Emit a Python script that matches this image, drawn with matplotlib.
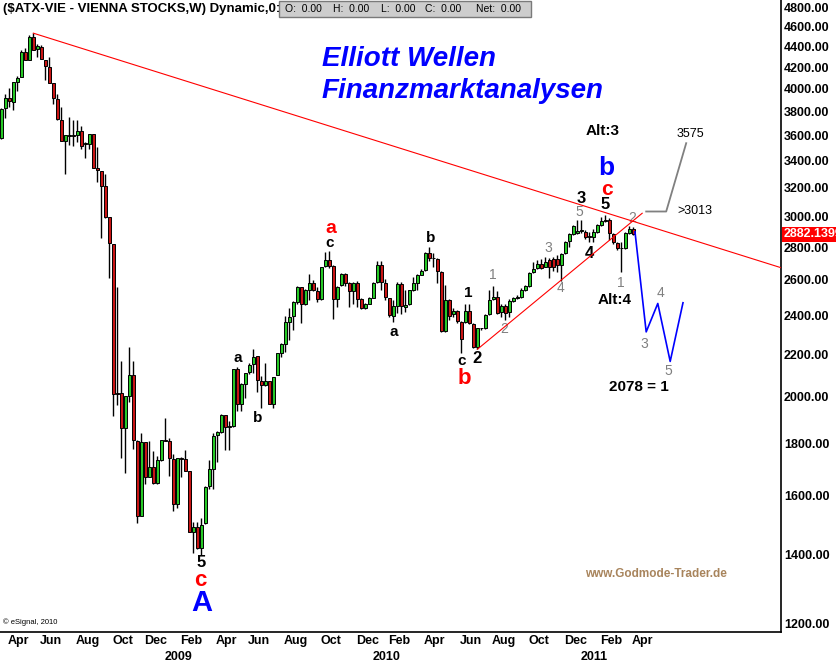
import numpy as np
import pandas as pd
import matplotlib
matplotlib.use('Agg')
import matplotlib.pyplot as plt
from matplotlib.patches import Rectangle
from matplotlib.ticker import FixedLocator, NullLocator, FormatStrFormatter

plt.rcParams['font.family'] = ['Liberation Sans', 'DejaVu Sans']

# weekly bars ATX
dates = pd.date_range('2008-03-24', periods=159, freq='W-MON')

opens = [3577, 3827, 3921, 3882, 4066, 4105, 4344, 4267, 4498, 4374,
         4394, 4267, 4200, 4051, 3911, 3728, 3556, 3600, 3604, 3607,
         3640, 3535, 3531, 3613, 3345, 3324, 3213, 2997, 2819, 2014,
         2014, 1861, 2002, 2101, 1810, 1526, 1803, 1668, 1707, 1645,
         1731, 1814, 1810, 1737, 1569, 1740, 1737, 1689, 1474, 1490,
         1422, 1503, 1636, 1698, 1835, 1846, 1917, 1867, 1870, 2125,
         1966, 2058, 2112, 2152, 2191, 2069, 2054, 2069, 1967, 2101,
         2207, 2252, 2367, 2397, 2472, 2559, 2465, 2544, 2585, 2538,
         2492, 2681, 2722, 2685, 2490, 2570, 2634, 2585, 2534, 2585,
         2490, 2441, 2465, 2499, 2590, 2691, 2581, 2496, 2397, 2454,
         2575, 2445, 2465, 2544, 2585, 2632, 2661, 2764, 2732, 2727,
         2647, 2317, 2487, 2408, 2427, 2367, 2367, 2427, 2354, 2236,
         2331, 2331, 2408, 2490, 2503, 2421, 2450, 2421, 2478, 2496,
         2503, 2540, 2566, 2647, 2670, 2697, 2680, 2718, 2725, 2725,
         2691, 2762, 2839, 2883, 2890, 2906, 2900, 2870, 2864, 2900,
         2942, 2972, 2978, 2883, 2825, 2792, 2792, 2890, 2917]
highs = [3827, 3958, 4009, 4066, 4114, 4367, 4388, 4516, 4535, 4421,
         4411, 4270, 4300, 4055, 3954, 3836, 3602, 3754, 3728, 3728,
         3677, 3547, 3613, 3613, 3509, 3324, 3300, 2997, 2819, 2557,
         2166, 2001, 2238, 2166, 1814, 1843, 1803, 1810, 1767, 1747,
         1814, 1903, 1821, 1757, 1740, 1745, 1771, 1689, 1508, 1508,
         1521, 1636, 1734, 1843, 1848, 1923, 1920, 1891, 2128, 2135,
         2062, 2109, 2156, 2226, 2191, 2093, 2156, 2069, 2091, 2207,
         2255, 2397, 2441, 2478, 2566, 2562, 2548, 2634, 2600, 2562,
         2680, 2768, 2776, 2690, 2566, 2641, 2640, 2590, 2590, 2592,
         2495, 2468, 2500, 2590, 2713, 2713, 2604, 2496, 2487, 2590,
         2587, 2544, 2544, 2618, 2637, 2667, 2770, 2803, 2760, 2734,
         2653, 2570, 2490, 2441, 2432, 2370, 2465, 2465, 2360, 2331,
         2335, 2408, 2540, 2566, 2534, 2465, 2465, 2490, 2503, 2512,
         2555, 2570, 2648, 2708, 2719, 2725, 2740, 2735, 2740, 2750,
         2762, 2842, 2888, 2942, 2976, 2976, 2910, 2900, 2915, 2950,
         2997, 3010, 2990, 2890, 2830, 2830, 2900, 2935, 2930]
lows = [3569, 3748, 3841, 3815, 3979, 4105, 4267, 4267, 4371, 4300,
        4274, 4083, 4057, 3867, 3728, 3556, 3300, 3528, 3520, 3550,
        3496, 3419, 3496, 3345, 3239, 2861, 2992, 2609, 1913, 1962,
        1740, 1684, 1975, 1776, 1503, 1526, 1642, 1668, 1642, 1642,
        1728, 1808, 1672, 1544, 1556, 1668, 1690, 1472, 1406, 1418,
        1400, 1500, 1623, 1623, 1725, 1840, 1774, 1774, 1866, 1934,
        1934, 1992, 2105, 2109, 2022, 1950, 2046, 1967, 1950, 2099,
        2185, 2212, 2269, 2321, 2465, 2361, 2460, 2483, 2538, 2472,
        2488, 2677, 2671, 2379, 2448, 2566, 2566, 2445, 2465, 2445,
        2438, 2436, 2462, 2496, 2585, 2540, 2487, 2393, 2367, 2415,
        2408, 2421, 2460, 2538, 2540, 2628, 2655, 2714, 2677, 2581,
        2310, 2310, 2376, 2393, 2360, 2204, 2360, 2355, 2232, 2224,
        2325, 2328, 2403, 2485, 2408, 2393, 2376, 2393, 2475, 2490,
        2499, 2536, 2562, 2641, 2665, 2665, 2675, 2612, 2655, 2650,
        2595, 2756, 2803, 2880, 2885, 2890, 2851, 2835, 2835, 2890,
        2935, 2960, 2845, 2822, 2780, 2647, 2785, 2883, 2878]
closes = [3821, 3918, 3888, 4061, 4098, 4344, 4267, 4498, 4371, 4401,
          4274, 4207, 4057, 3918, 3734, 3556, 3602, 3604, 3600, 3640,
          3520, 3540, 3613, 3349, 3331, 3215, 2997, 2824, 2009, 2009,
          1861, 2001, 2101, 1814, 1526, 1803, 1668, 1707, 1645, 1731,
          1814, 1810, 1740, 1569, 1740, 1738, 1692, 1474, 1490, 1422,
          1496, 1632, 1697, 1828, 1844, 1920, 1867, 1870, 2125, 1966,
          2057, 2109, 2147, 2188, 2074, 2054, 2069, 1967, 2091, 2204,
          2250, 2365, 2391, 2472, 2562, 2463, 2540, 2585, 2540, 2492,
          2677, 2722, 2685, 2490, 2562, 2634, 2585, 2534, 2585, 2490,
          2441, 2465, 2496, 2585, 2691, 2590, 2501, 2403, 2450, 2575,
          2454, 2459, 2540, 2585, 2628, 2653, 2764, 2734, 2730, 2653,
          2317, 2483, 2399, 2427, 2372, 2275, 2427, 2358, 2236, 2331,
          2331, 2403, 2487, 2503, 2412, 2450, 2415, 2478, 2496, 2503,
          2540, 2566, 2641, 2667, 2697, 2674, 2708, 2680, 2675, 2690,
          2756, 2835, 2883, 2935, 2906, 2910, 2864, 2864, 2900, 2942,
          2972, 2978, 2890, 2830, 2792, 2797, 2890, 2917, 2882.14]

# trend lines (week index, price)
resist_x = [8, 194.9]
resist_y = [4535, 2673]
support_x = [119, 160.2]
support_y = [2224, 3022]

# projected paths
blue_x = [158.4, 161.2, 164.1, 167.2, 170.4]
blue_y = [2898, 2313, 2466, 2164, 2470]
grey_x = [161.2, 166.2, 171.2]
grey_y = [3034, 3034, 3539]

last_price = 2882.1399

# wave labels: (text, week, price, color, size, bold)
labels = [
    ("5", 49.9, 1374, 'black', 12, True),
    ("c", 49.7, 1322, 'red', 16, True),
    ("A", 50.2, 1255, '#0000ff', 21, True),
    ("a", 59.0, 2179, 'black', 11, True),
    ("b", 64.0, 1904, 'black', 11, True),
    ("a", 82.3, 2923, 'red', 14, True),
    ("c", 82.1, 2824, 'black', 11, True),
    ("a", 98.0, 2314, 'black', 11, True),
    ("b", 107.2, 2861, 'black', 11, True),
    ("1", 116.8, 2527, 'black', 11, True),
    ("c", 115.1, 2167, 'black', 11, True),
    ("2", 119.0, 2179, 'black', 12, True),
    ("b", 115.75, 2083, 'red', 16, True),
    ("1", 122.75, 2629, 'grey', 10, False),
    ("2", 125.7, 2326, 'grey', 10, False),
    ("3", 136.75, 2792, 'grey', 10, False),
    ("4", 139.7, 2555, 'grey', 10, False),
    ("5", 144.4, 3033, 'grey', 10, False),
    ("3", 144.85, 3126, 'black', 12, True),
    ("4", 146.9, 2761, 'black', 12, True),
    ("5", 150.9, 3080, 'black', 12, True),
    ("c", 151.5, 3190, 'red', 15, True),
    ("b", 151.35, 3345, '#0000ff', 19, True),
    ("2", 157.75, 2988, 'grey', 10, False),
    ("1", 154.8, 2581, 'grey', 10, False),
    ("Alt:4", 153.2, 2485, 'black', 11, True),
    ("Alt:3", 150.25, 3640, 'black', 11, True),
    ("3575", 172.35, 3613, 'black', 9, False),
    (">3013", 173.4, 3037, 'black', 9, False),
    ("3", 160.75, 2251, 'grey', 10, False),
    ("4", 164.7, 2523, 'grey', 10, False),
    ("5", 166.75, 2119, 'grey', 10, False),
    ("2078 = 1", 159.4, 2044, 'black', 11, True),
]

green = '#27c927'
red = '#c81414'

fig = plt.figure(figsize=(8.36, 6.65), dpi=100)
ax = fig.add_axes([0, 33 / 665, 781 / 836, 632 / 665])

x = np.arange(len(dates))
o = np.array(opens, dtype=float)
c = np.array(closes, dtype=float)
up = c >= o
ax.vlines(x, lows, highs, color='black', lw=1.0, zorder=2)
ax.bar(x, np.abs(c - o), bottom=np.minimum(o, c), width=0.72,
       color=np.where(up, green, red), edgecolor='black', lw=0.7, zorder=3)

ax.plot(resist_x, resist_y, color='red', lw=0.8, zorder=4)
ax.plot(support_x, support_y, color='red', lw=0.8, zorder=4)
ax.plot(blue_x, blue_y, color='#0000ff', lw=1.2, zorder=4)
ax.plot(grey_x, grey_y, color='#808080', lw=1.3, zorder=4)

ax.set_yscale('log')
ax.set_ylim(1176, 4887)
ax.set_xlim(-0.33, 194.9)
ax.yaxis.set_major_locator(FixedLocator(np.arange(1200, 4801, 200)))
ax.yaxis.set_minor_locator(NullLocator())
ax.yaxis.set_major_formatter(FormatStrFormatter('%.2f'))
ax.yaxis.tick_right()
ax.tick_params(axis='y', which='both', length=0, pad=2, labelsize=9)
for t in ax.get_yticklabels():
    t.set_fontweight('bold')
ax.set_xticks([])
for s in ['top', 'left']:
    ax.spines[s].set_visible(False)
ax.spines['right'].set_linewidth(1.2)
ax.spines['bottom'].set_linewidth(1.2)

# month / year labels at the first bar of the month
xt = ax.get_xaxis_transform()
for i in range(1, len(dates)):
    d, prev = dates[i], dates[i - 1]
    if d.month != prev.month and d.month % 2 == 0:
        ax.text(i - 0.3, -0.0142, d.strftime('%b'), transform=xt, ha='left',
                va='center', fontsize=9, fontweight='bold', clip_on=False)
    if d.year != prev.year:
        ax.text(i - 0.3, -0.0396, str(d.year), transform=xt, ha='left',
                va='center', fontsize=9, fontweight='bold', clip_on=False)

for txt, wx, py, col, fs, bold in labels:
    ax.text(wx, py, txt, color=col, fontsize=fs, ha='center', va='center',
            fontweight='bold' if bold else 'normal')

ax.text(322 / 781, 1 - 59 / 632, 'Elliott Wellen', transform=ax.transAxes,
        color='#0000ff', fontsize=20, fontweight='bold', fontstyle='italic',
        ha='left', va='center')
ax.text(322 / 781, 1 - 91 / 632, 'Finanzmarktanalysen', transform=ax.transAxes,
        color='#0000ff', fontsize=20, fontweight='bold', fontstyle='italic',
        ha='left', va='center')
ax.text(656 / 781, 1 - 574 / 632, 'www.Godmode-Trader.de', transform=ax.transAxes,
        color='#a8845c', fontsize=8.5, fontweight='bold', ha='center', va='center')

# last price marker
ax.text(1.003, last_price, '%.4f' % last_price, transform=ax.get_yaxis_transform(),
        color='white', fontsize=9, fontweight='bold', ha='left', va='center',
        clip_on=False, bbox=dict(facecolor='#ff0000', edgecolor='none', pad=1.2))

fig.text(3 / 836, 1 - 9 / 665, '($ATX-VIE - VIENNA STOCKS,W) Dynamic,0:0',
         fontsize=9.5, fontweight='bold', ha='left', va='center')
fig.patches.append(Rectangle((279 / 836, 1 - 17 / 665), 252 / 836, 16 / 665,
                             transform=fig.transFigure, facecolor='#cdcdcd',
                             edgecolor='#7a7a7a', lw=1, zorder=5))
for px, s in [(285, 'O:  0.00'), (333, 'H:  0.00'), (381, 'L:  0.00'),
              (425, 'C:  0.00'), (476, 'Net:  0.00')]:
    fig.text(px / 836, 1 - 9 / 665, s, fontsize=7.5, ha='left', va='center', zorder=6)
fig.text(3 / 836, 1 - 622 / 665, '\u00a9 eSignal, 2010', fontsize=5.5,
         ha='left', va='center')

fig.savefig('out.png', dpi=100)
